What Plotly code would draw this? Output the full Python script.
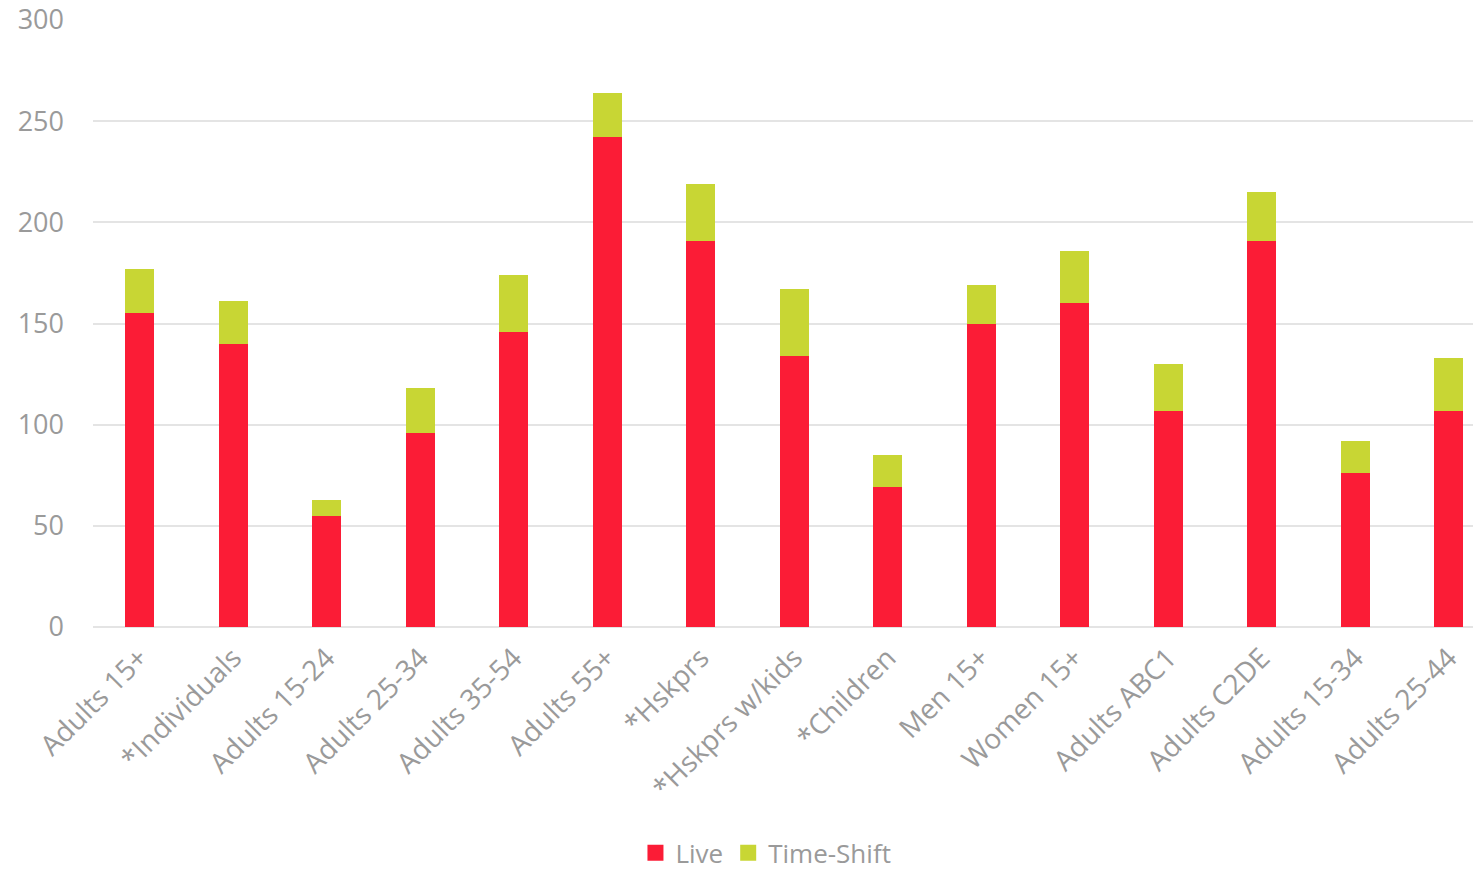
import plotly.graph_objects as go

categories = ["Adults 15+", "*Individuals", "Adults 15-24", "Adults 25-34", "Adults 35-54",
              "Adults 55+", "*Hskprs", "*Hskprs w/kids", "*Children", "Men 15+",
              "Women 15+", "Adults ABC1", "Adults C2DE", "Adults 15-34", "Adults 25-44"]
live = [155, 140, 55, 96, 146, 242, 191, 134, 69, 150, 160, 107, 191, 76, 107]
time_shift = [22, 21, 8, 22, 28, 22, 28, 33, 16, 19, 26, 23, 24, 16, 26]
y_ticks = [0, 50, 100, 150, 200, 250, 300]

FONT = "Open Sans"
GREY = "#9a9a9a"
RED = "#FB1C36"
GREEN = "#C8D634"

fig = go.Figure()
fig.add_trace(go.Bar(x=categories, y=live, name="Live", showlegend=False,
                     marker=dict(color=RED, line=dict(width=0))))
fig.add_trace(go.Bar(x=categories, y=time_shift, name="Time-Shift", showlegend=False,
                     marker=dict(color=GREEN, line=dict(width=0))))

# legend entries with larger square swatches
for name, color in (("Live", RED), ("Time-Shift", GREEN)):
    fig.add_trace(go.Scatter(x=[None], y=[None], mode="markers", name=name,
                             marker=dict(symbol="square", size=17, color=color)))

fig.update_layout(
    barmode="stack",
    bargap=0.69,
    width=1473, height=872,
    margin=dict(l=93, r=0, t=20, b=245),
    paper_bgcolor="white", plot_bgcolor="white",
    font=dict(family=FONT, size=26, color=GREY),
    showlegend=True,
    legend=dict(orientation="h", xref="container", x=0.52, xanchor="center",
                yref="container", y=0.022, yanchor="middle",
                font=dict(size=26, color=GREY), itemwidth=30,
                traceorder="normal"),
    # the category axis runs slightly past the right edge of the canvas
    xaxis=dict(tickangle=-45, showgrid=False, showline=False, ticks="",
               range=[-0.5, 14.26], ticklabelstandoff=8,
               tickfont=dict(size=28, color=GREY)),
    yaxis=dict(range=[0, 300], tickvals=y_ticks, showgrid=True,
               gridcolor="#e4e4e4", gridwidth=1.5, zeroline=True,
               zerolinecolor="#e4e4e4", zerolinewidth=1.5,
               ticklabelstandoff=28, tickfont=dict(size=27, color=GREY)),
)

fig.write_html("out.html")
